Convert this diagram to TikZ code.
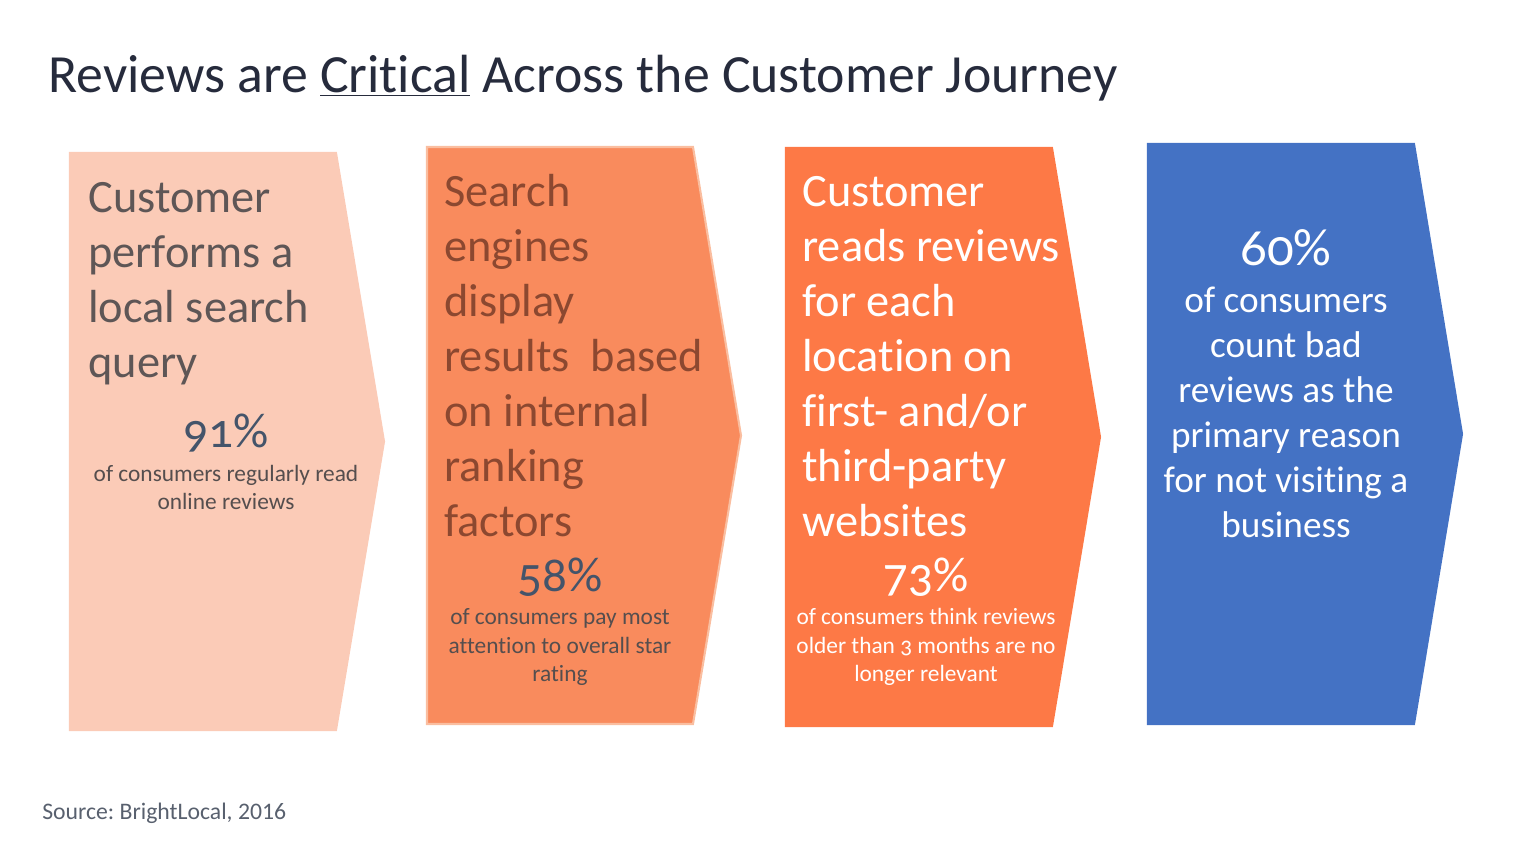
\documentclass[tikz,border=0pt]{standalone}
\usepackage{fontspec}
\setmainfont[Ligatures=NoCommon]{Carlito}
\newfontfamily\statfont[Numbers=OldStyle,Ligatures=NoCommon]{Carlito}
\usepackage{xcolor}
\frenchspacing
\definecolor{peach}{RGB}{251,203,183}
\definecolor{salmon}{RGB}{249,139,93}
\definecolor{salmonedge}{RGB}{250,190,160}
\definecolor{tangerine}{RGB}{253,121,70}
\definecolor{cornflower}{RGB}{68,114,196}
\definecolor{titlecol}{RGB}{38,43,60}
\definecolor{greytxt}{RGB}{94,86,86}
\definecolor{browntxt}{RGB}{140,72,48}
\definecolor{slate}{RGB}{68,84,106}
\definecolor{statgrey}{RGB}{85,78,78}
\definecolor{sourcecol}{RGB}{88,96,110}

\begin{document}
\begin{tikzpicture}[x=0.02cm,y=-0.02cm,
  steptext/.style={anchor=base west,inner sep=0,font=\fontsize{26.4}{31}\selectfont},
  statnum/.style={anchor=base,inner sep=0,text=slate,font=\statfont\fontsize{28}{33}\selectfont},
  statline/.style={anchor=base,inner sep=0,font=\statfont\fontsize{13.3}{16}\selectfont}]
  \useasboundingbox (0,0) rectangle (1536,864);

  \node[anchor=base west,inner sep=0,text=titlecol,font=\fontsize{30.6}{36}\selectfont] (title) at (48,93)
    {Reviews are \underline{Critical} Across the Customer Journey};

  % the four chevrons
  \foreach \xl/\yt/\yb/\col/\edge in {70/153/730/peach/peach,427/147/724/salmon/salmonedge,786/148/726/tangerine/tangerine,1148/144/724/cornflower/cornflower}
    \filldraw[fill=\col,draw=\edge,line width=1.2] (\xl,\yt) -- (\xl+266,\yt) -- (\xl+314,{(\yt+\yb)/2}) -- (\xl+266,\yb) -- (\xl,\yb) -- cycle;

  % step 1
  \foreach \t [count=\i] in {Customer,performs a,local search,query}
    \node[steptext,text=greytxt] (one\i) at (88,{213+55*(\i-1)}) {\t};
  \node[statnum] (onepct) at (226,448) {91\%};
  \foreach \t [count=\i] in {of consumers regularly read,online reviews}
    \node[statline,text=statgrey] (onestat\i) at (226,{482+28*(\i-1)}) {\t};

  % step 2
  \foreach \t [count=\i] in {Search,engines,display,results\ \ based,on internal,ranking,factors}
    \node[steptext,text=browntxt] (two\i) at (444,{207+55*(\i-1)}) {\t};
  \node[statnum] (twopct) at (560,592) {58\%};
  \foreach \t [count=\i] in {of consumers pay most,attention to overall star,rating}
    \node[statline,text=statgrey] (twostat\i) at (560,{625+28.5*(\i-1)}) {\t};

  % step 3
  \foreach \t [count=\i] in {Customer,reads reviews,for each,location on,first- and/or,third-party,websites}
    \node[steptext,text=white] (three\i) at (802,{207+55*(\i-1)}) {\t};
  \node[statnum,text=white] (threepct) at (926,592) {73\%};
  \foreach \t [count=\i] in {of consumers think reviews,older than 3 months are no,longer relevant}
    \node[statline,text=white] (threestat\i) at (926,{625+28.5*(\i-1)}) {\t};

  % step 4
  \node[statnum,text=white,font=\statfont\fontsize{30}{36}\selectfont] (fourpct) at (1286,266) {60\%};
  \foreach \t [count=\i] in {of consumers,count bad,reviews as the,primary reason,for not visiting a,business}
    \node[anchor=base,inner sep=0,text=white,font=\statfont\fontsize{21.2}{25}\selectfont] (four\i) at (1286,{313+45*(\i-1)}) {\t};

  \node[anchor=base west,inner sep=0,text=sourcecol,font=\fontsize{13.5}{16}\selectfont] (source) at (42,820)
    {Source: BrightLocal, 2016};
\end{tikzpicture}
\end{document}
